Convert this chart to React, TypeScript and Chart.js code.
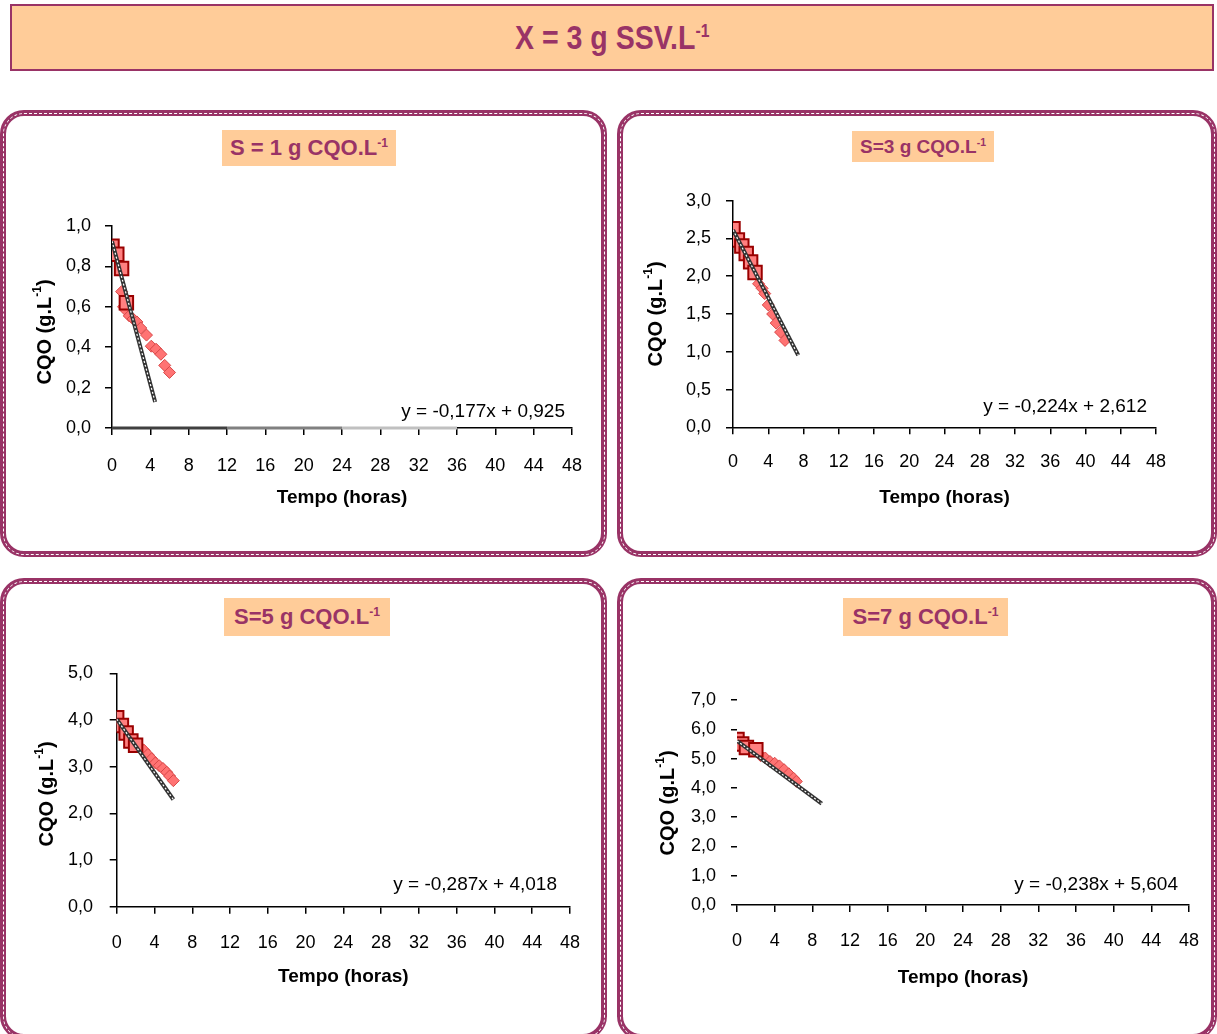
import React, { useEffect, useRef } from "react";
import { Chart, registerables } from "chart.js";

Chart.register(...registerables);

const FONT = "'Liberation Sans', Arial, Helvetica, sans-serif";
const PURPLE = "#993366";
const PEACH = "#FFCC99";

// ---------- shared axis ticks ----------
const X_TICKS = [0, 4, 8, 12, 16, 20, 24, 28, 32, 36, 40, 44, 48];

// ---------- S = 1 g CQO/L ----------
const S1_Y_TICKS = [0, 0.2, 0.4, 0.6, 0.8, 1.0];
const S1_SQ_T = [0, 0.5, 1, 1.5];
const S1_SQ_CQO = [0.9, 0.86, 0.79, 0.62];
const S1_DI_T = [1.0, 1.2, 1.4, 1.8, 2.2, 2.6, 3.0, 3.6, 4.1, 4.6, 5.1, 5.5, 6.0];
const S1_DI_CQO = [0.675, 0.6, 0.585, 0.555, 0.54, 0.525, 0.495, 0.46, 0.405, 0.39, 0.365, 0.31, 0.275];
const S1_FIT = [-0.177, 0.925];
const S1_FIT_END = 4.5;
const S1_AXIS_SEG_T = [0, 12, 24, 36];
const S1_AXIS_SEG_COLORS = ["#404040", "#808080", "#c0c0c0"];

// ---------- S = 3 g CQO/L ----------
const S3_Y_TICKS = [0, 0.5, 1.0, 1.5, 2.0, 2.5, 3.0];
const S3_SQ_T = [0, 0.5, 1, 1.5, 2, 2.5];
const S3_SQ_CQO = [2.63, 2.48, 2.4, 2.3, 2.19, 2.05];
const S3_DI_T = [2.9, 3.3, 3.6, 4.0, 4.5, 4.9, 5.4, 5.9];
const S3_DI_CQO = [1.9, 1.84, 1.77, 1.62, 1.5, 1.38, 1.26, 1.15];
const S3_FIT = [-0.224, 2.612];
const S3_FIT_END = 7.4;

// ---------- S = 5 g CQO/L ----------
const S5_Y_TICKS = [0, 1, 2, 3, 4, 5];
const S5_SQ_T = [0, 0.5, 1, 1.5, 2];
const S5_SQ_CQO = [4.05, 3.88, 3.72, 3.55, 3.46];
const S5_DI_T = [2.5, 2.9, 3.3, 3.7, 4.1, 4.5, 4.9, 5.3, 5.6, 6.0];
const S5_DI_CQO = [3.42, 3.35, 3.26, 3.17, 3.08, 3.02, 2.96, 2.88, 2.8, 2.7];
const S5_FIT = [-0.287, 4.018];
const S5_FIT_END = 6;

// ---------- S = 7 g CQO/L ----------
const S7_Y_TICKS = [0, 1, 2, 3, 4, 5, 6, 7];
const S7_SQ_T = [0, 0.5, 1, 2];
const S7_SQ_CQO = [5.65, 5.5, 5.38, 5.3];
const S7_DI_T = [2.5, 3.0, 3.5, 4.0, 4.5, 5.0, 5.5, 6.0, 6.3];
const S7_DI_CQO = [5.1, 5.02, 4.9, 4.84, 4.75, 4.62, 4.48, 4.33, 4.22];
const S7_FIT = [-0.238, 5.604];
const S7_FIT_END = 9;

const comma = (v: number, d: number) => v.toFixed(d).replace(".", ",");
const pts = (t: number[], c: number[]) => t.map((x, i) => ({ x, y: c[i] }));

const panelTextPlugin = {
  id: "panelText",
  afterDraw(chart: any, _args: any, opts: any) {
    const ctx = chart.ctx as CanvasRenderingContext2D;
    // rotated y-axis title with superscript
    ctx.save();
    ctx.translate(opts.yTitleX, opts.yTitleY);
    ctx.rotate(-Math.PI / 2);
    ctx.fillStyle = "#000";
    ctx.textBaseline = "middle";
    ctx.textAlign = "left";
    const size = opts.yTitleSize;
    const supSize = Math.round(size * 0.62);
    const main = "CQO (g.L";
    const sup = "-1";
    const end = ")";
    ctx.font = `bold ${size}px ${FONT}`;
    const wMain = ctx.measureText(main).width;
    const wEnd = ctx.measureText(end).width;
    ctx.font = `bold ${supSize}px ${FONT}`;
    const wSup = ctx.measureText(sup).width;
    let x = -(wMain + wSup + wEnd) / 2;
    ctx.font = `bold ${size}px ${FONT}`;
    ctx.fillText(main, x, 0);
    x += wMain;
    ctx.font = `bold ${supSize}px ${FONT}`;
    ctx.fillText(sup, x, -size * 0.35);
    x += wSup;
    ctx.font = `bold ${size}px ${FONT}`;
    ctx.fillText(end, x, 0);
    ctx.restore();

    // regression equation
    ctx.save();
    ctx.font = `${opts.eqSize}px ${FONT}`;
    ctx.fillStyle = "#000";
    ctx.textAlign = "right";
    ctx.textBaseline = "middle";
    ctx.fillText(opts.eqText, opts.eqX, opts.eqY);
    ctx.restore();
  },
};

type Spec = {
  sqT: number[];
  sqC: number[];
  diT: number[];
  diC: number[];
  fit: number[];
  fitEnd: number;
  yTicks: number[];
  segT?: number[];
  segColors?: string[];
  showYBorder: boolean;
  // layout (page coords)
  cl: number; ct: number; cw: number; ch: number;
  plotL: number; plotR: number; plotT: number; plotB: number;
  xLabelY: number; yLabelRight: number; yTickLen: number;
  xTitleY: number; yTitleX: number; yTitleY: number;
  eqRight: number; eqY: number;
};

function buildConfig(s: Spec): any {
  const [m, b] = s.fit;
  const fitPts = [
    { x: 0, y: b },
    { x: s.fitEnd, y: b + m * s.fitEnd },
  ];
  const datasets: any[] = [];
  if (s.segT && s.segColors) {
    for (let i = 0; i < s.segColors.length; i++) {
      datasets.push({
        data: [
          { x: s.segT[i], y: 0 },
          { x: s.segT[i + 1], y: 0 },
        ],
        showLine: true,
        borderColor: s.segColors[i],
        borderWidth: 3,
        pointRadius: 0,
        clip: false,
      });
    }
  }
  datasets.push(
    {
      data: fitPts,
      showLine: true,
      borderColor: "#ffffff",
      borderWidth: 1.2,
      borderDash: [2, 2],
      pointRadius: 0,
    },
    {
      data: fitPts,
      showLine: true,
      borderColor: "#333333",
      borderWidth: 4,
      pointRadius: 0,
    },
    {
      data: pts(s.sqT, s.sqC),
      pointStyle: "rect",
      pointRadius: 9.5,
      backgroundColor: "#FF8080",
      borderColor: "#990000",
      borderWidth: 2,
      showLine: false,
    },
    {
      data: pts(s.diT, s.diC),
      pointStyle: "rectRot",
      pointRadius: 6,
      backgroundColor: "#FF7373",
      borderColor: "#D84848",
      borderWidth: 1,
      showLine: false,
    }
  );

  const yAxisW = s.plotL - s.cl;
  const xAxisH = s.ct + s.ch - s.plotB;
  const xTickLen = 7;
  const xTickPad = s.xLabelY - s.plotB - xTickLen - 10.8;
  const yTickPad = s.plotL - s.yTickLen - s.yLabelRight;
  const titleSize = 19;
  const titlePadBottom = s.ct + s.ch - s.xTitleY - (titleSize * 1.2) / 2;
  const yMax = s.yTicks[s.yTicks.length - 1];

  return {
    type: "scatter",
    data: { datasets },
    plugins: [panelTextPlugin],
    options: {
      animation: false,
      responsive: false,
      devicePixelRatio: 1,
      layout: {
        padding: {
          left: 0,
          bottom: 0,
          top: s.plotT - s.ct,
          right: s.cl + s.cw - s.plotR,
        },
      },
      plugins: {
        legend: { display: false },
        tooltip: { enabled: false },
        panelText: {
          yTitleX: s.yTitleX - s.cl,
          yTitleY: s.yTitleY - s.ct,
          yTitleSize: 20,
          eqText: `y = ${comma(m, 3)}x + ${comma(b, 3)}`,
          eqX: s.eqRight - s.cl,
          eqY: s.eqY - s.ct,
          eqSize: 19,
        },
      },
      scales: {
        x: {
          type: "linear",
          min: 0,
          max: 48,
          afterBuildTicks: (sc: any) => {
            sc.ticks = X_TICKS.map((v) => ({ value: v }));
          },
          afterFit: (sc: any) => {
            sc.height = xAxisH;
          },
          ticks: {
            autoSkip: false,
            maxRotation: 0,
            padding: xTickPad,
            color: "#000",
            font: { family: FONT, size: 18 },
            callback: (v: any) => String(v),
          },
          grid: {
            display: true,
            drawOnChartArea: false,
            drawTicks: true,
            tickLength: xTickLen,
            color: "#000",
            lineWidth: 1.5,
          },
          border: { display: true, color: "#000", width: 1.5 },
          title: {
            display: true,
            text: "Tempo (horas)",
            color: "#000",
            font: { family: FONT, size: titleSize, weight: "bold" },
            padding: { top: 0, bottom: titlePadBottom },
          },
        },
        y: {
          type: "linear",
          min: 0,
          max: yMax,
          afterBuildTicks: (sc: any) => {
            sc.ticks = s.yTicks.map((v) => ({ value: v }));
          },
          afterFit: (sc: any) => {
            sc.width = yAxisW;
          },
          ticks: {
            autoSkip: false,
            padding: yTickPad,
            color: "#000",
            font: { family: FONT, size: 18 },
            callback: (v: any) => comma(Number(v), 1),
          },
          grid: {
            display: true,
            drawOnChartArea: false,
            drawTicks: true,
            tickLength: s.yTickLen,
            color: "#000",
            lineWidth: 1.5,
          },
          border: { display: s.showYBorder, color: "#000", width: 1.5 },
        },
      },
    },
  };
}

function PanelChart({ spec }: { spec: Spec }) {
  const ref = useRef<HTMLCanvasElement>(null);
  useEffect(() => {
    if (!ref.current) return;
    const chart = new Chart(ref.current, buildConfig(spec));
    return () => chart.destroy();
  }, [spec]);
  return (
    <canvas
      ref={ref}
      width={spec.cw}
      height={spec.ch}
      style={{ position: "absolute", left: spec.cl, top: spec.ct, width: spec.cw, height: spec.ch }}
    />
  );
}

const SPEC1: Spec = {
  sqT: S1_SQ_T, sqC: S1_SQ_CQO, diT: S1_DI_T, diC: S1_DI_CQO, fit: S1_FIT, fitEnd: S1_FIT_END,
  yTicks: S1_Y_TICKS, segT: S1_AXIS_SEG_T, segColors: S1_AXIS_SEG_COLORS, showYBorder: true,
  cl: 10, ct: 170, cw: 600, ch: 360,
  plotL: 112, plotR: 572, plotT: 226, plotB: 428,
  xLabelY: 466, yLabelRight: 91, yTickLen: 7,
  xTitleY: 498, yTitleX: 45, yTitleY: 332,
  eqRight: 565, eqY: 412,
};

const SPEC3: Spec = {
  sqT: S3_SQ_T, sqC: S3_SQ_CQO, diT: S3_DI_T, diC: S3_DI_CQO, fit: S3_FIT, fitEnd: S3_FIT_END,
  yTicks: S3_Y_TICKS, showYBorder: true,
  cl: 630, ct: 150, cw: 580, ch: 380,
  plotL: 733, plotR: 1156, plotT: 200.7, plotB: 427.3,
  xLabelY: 462, yLabelRight: 711, yTickLen: 7,
  xTitleY: 498, yTitleX: 656, yTitleY: 314,
  eqRight: 1147, eqY: 407,
};

const SPEC5: Spec = {
  sqT: S5_SQ_T, sqC: S5_SQ_CQO, diT: S5_DI_T, diC: S5_DI_CQO, fit: S5_FIT, fitEnd: S5_FIT_END,
  yTicks: S5_Y_TICKS, showYBorder: true,
  cl: 10, ct: 630, cw: 600, ch: 390,
  plotL: 116.7, plotR: 570, plotT: 673.3, plotB: 906.7,
  xLabelY: 943, yLabelRight: 93, yTickLen: 7,
  xTitleY: 977, yTitleX: 47, yTitleY: 794,
  eqRight: 557, eqY: 885,
};

const SPEC7: Spec = {
  sqT: S7_SQ_T, sqC: S7_SQ_CQO, diT: S7_DI_T, diC: S7_DI_CQO, fit: S7_FIT, fitEnd: S7_FIT_END,
  yTicks: S7_Y_TICKS, showYBorder: false,
  cl: 630, ct: 640, cw: 600, ch: 380,
  plotL: 737, plotR: 1189, plotT: 700, plotB: 905,
  xLabelY: 941, yLabelRight: 716, yTickLen: 6,
  xTitleY: 978, yTitleX: 668, yTitleY: 803,
  eqRight: 1178, eqY: 885,
};

function Frame({ left, top, width, height }: { left: number; top: number; width: number; height: number }) {
  return (
    <div
      style={{
        position: "absolute",
        left,
        top,
        width,
        height,
        boxSizing: "border-box",
        border: `6px solid ${PURPLE}`,
        borderRadius: 24,
      }}
    >
      <div
        style={{
          position: "absolute",
          left: -3.5,
          top: -3.5,
          right: -3.5,
          bottom: -3.5,
          border: "1px dashed #ffffff",
          borderRadius: 21,
        }}
      />
    </div>
  );
}

function Label({
  left, top, width, height, size, text,
}: { left: number; top: number; width: number; height: number; size: number; text: string }) {
  return (
    <div
      style={{
        position: "absolute",
        left,
        top,
        width,
        height,
        background: PEACH,
        color: PURPLE,
        fontWeight: "bold",
        fontSize: size,
        display: "flex",
        alignItems: "center",
        justifyContent: "center",
        whiteSpace: "nowrap",
      }}
    >
      <span>
        {text}
        <sup style={{ fontSize: "0.55em", verticalAlign: "super", lineHeight: 0 }}>-1</sup>
      </span>
    </div>
  );
}

export default function App() {
  return (
    <div
      style={{
        position: "absolute",
        left: 0,
        top: 0,
        width: 1217,
        height: 1034,
        background: "#ffffff",
        overflow: "hidden",
        fontFamily: FONT,
      }}
    >
      <div
        style={{
          position: "absolute",
          left: 10,
          top: 4,
          width: 1204,
          height: 67,
          boxSizing: "border-box",
          border: `2px solid ${PURPLE}`,
          background: PEACH,
          display: "flex",
          alignItems: "center",
          justifyContent: "center",
          color: PURPLE,
          fontWeight: "bold",
          fontSize: 30,
        }}
      >
        <span style={{ display: "inline-block", transform: "scale(0.95, 1.1)" }}>
          X = 3 g SSV.L
          <sup style={{ fontSize: "0.55em", verticalAlign: "super", lineHeight: 0 }}>-1</sup>
        </span>
      </div>

      <Frame left={0} top={110} width={607} height={447} />
      <Frame left={617} top={110} width={600} height={447} />
      <Frame left={0} top={578} width={607} height={462} />
      <Frame left={617} top={578} width={600} height={462} />

      <Label left={222} top={130} width={174} height={36} size={22} text="S = 1 g CQO.L" />
      <Label left={852} top={131} width={142} height={31} size={19} text="S=3 g CQO.L" />
      <Label left={224} top={598} width={166} height={38} size={22} text="S=5 g CQO.L" />
      <Label left={843} top={598} width={165} height={38} size={22} text="S=7 g CQO.L" />

      <PanelChart spec={SPEC1} />
      <PanelChart spec={SPEC3} />
      <PanelChart spec={SPEC5} />
      <PanelChart spec={SPEC7} />
    </div>
  );
}
